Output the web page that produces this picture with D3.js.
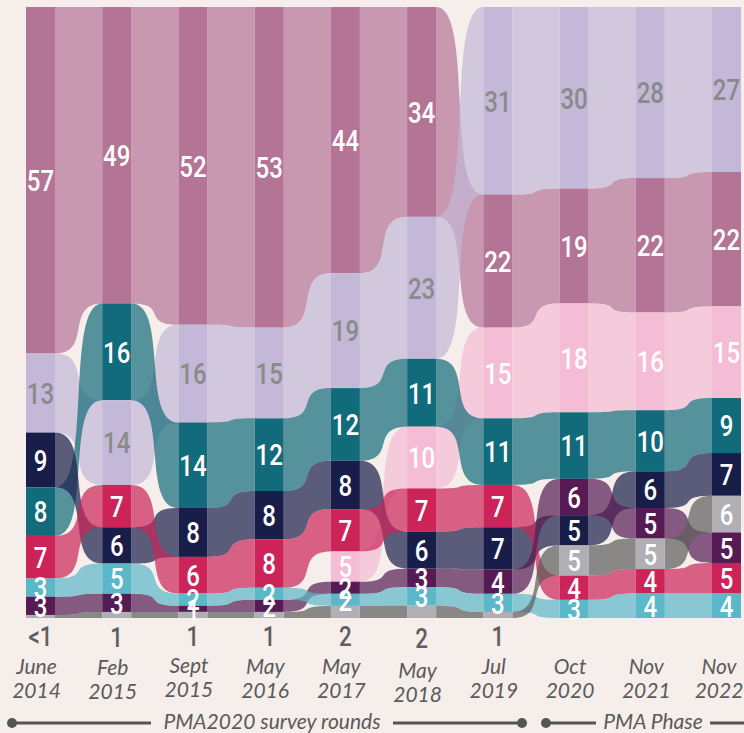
<!DOCTYPE html>
<html>
<head>
<meta charset="utf-8">
<script src="https://cdn.jsdelivr.net/npm/d3@7"></script>
<style>
  body { margin: 0; background: #f5eeeb; }
  svg { display: block; }
</style>
</head>
<body>
<div id="chart"></div>
<script>
// survey rounds
var months = ["June", "Feb", "Sept", "May", "May", "May", "Jul", "Oct", "Nov", "Nov"];
var years = ["2014", "2015", "2015", "2016", "2017", "2018", "2019", "2020", "2021", "2022"];

// share of users by method, per round (0 = not measured)
var injectables = [57, 49, 52, 53, 44, 34, 22, 19, 22, 22];
var implants    = [13, 14, 16, 15, 19, 23, 31, 30, 28, 27];
var iud         = [8, 16, 14, 12, 12, 11, 11, 11, 10, 9];
var pills       = [9, 6, 8, 8, 8, 6, 7, 5, 6, 7];
var condoms     = [7, 7, 6, 8, 7, 7, 7, 4, 4, 5];
var ec          = [3, 5, 2, 2, 2, 3, 3, 3, 4, 4];
var traditional = [3, 3, 1, 2, 2, 3, 4, 6, 5, 5];
var sdm         = [0, 0, 0, 0, 5, 10, 15, 18, 16, 15];
var other       = [0.5, 1, 1, 1, 2, 2, 1, 5, 5, 6];
var otherLabels = ["<1", "1", "1", "1", "2", "2", "1", "5", "5", "6"];

// stack order, top to bottom, for each round
var stackOrder = [
  ["injectables", "implants", "pills", "iud", "condoms", "ec", "traditional", "other"],
  ["injectables", "iud", "implants", "condoms", "pills", "ec", "traditional", "other"],
  ["injectables", "implants", "iud", "pills", "condoms", "ec", "traditional", "other"],
  ["injectables", "implants", "iud", "pills", "condoms", "ec", "traditional", "other"],
  ["injectables", "implants", "iud", "pills", "condoms", "sdm", "traditional", "ec", "other"],
  ["injectables", "implants", "iud", "sdm", "condoms", "pills", "traditional", "ec", "other"],
  ["implants", "injectables", "sdm", "iud", "condoms", "pills", "traditional", "ec", "other"],
  ["implants", "injectables", "sdm", "iud", "traditional", "pills", "other", "condoms", "ec"],
  ["implants", "injectables", "sdm", "iud", "pills", "traditional", "other", "condoms", "ec"],
  ["implants", "injectables", "sdm", "iud", "pills", "other", "traditional", "condoms", "ec"]
];

var series = {
  injectables: injectables, implants: implants, iud: iud, pills: pills,
  condoms: condoms, ec: ec, traditional: traditional, sdm: sdm, other: other
};

var barColor = {
  injectables: "#b47495", implants: "#c3b8d7", iud: "#126b7a", pills: "#191d4a",
  condoms: "#cc2459", ec: "#5bb8c9", traditional: "#561b54", sdm: "#f5bcd5", other: "#b0b0b4"
};
var flowColor = {
  injectables: "#b47495", implants: "#c3b8d7", iud: "#126b7a", pills: "#191d4a",
  condoms: "#cc2459", ec: "#5bb8c9", traditional: "#561b54", sdm: "#f5bcd5", other: "#5c5c5c"
};
var drawOrder = ["injectables", "implants", "sdm", "iud", "pills", "condoms", "traditional", "ec", "other"];

var W = 744, H = 733;
var yTop = 7, yBottom = 618, barW = 29;
var labelNudge = [0, 1, -1, 0, 0, 4, 0, 0, 0, 0];
var firstPhase = 7; // rounds from here on are PMA Phase
var numFont = "Roboto, 'DejaVu Sans', sans-serif";

var svg = d3.select("#chart").append("svg")
  .attr("width", W).attr("height", H)
  .style("background", "#f5eeeb");

var x = d3.scaleLinear().domain([0, months.length - 1]).range([26, 712]);

// stacked positions per round
var layout = stackOrder.map(function(order, i) {
  var total = d3.sum(order, function(k) { return series[k][i]; });
  var y = d3.scaleLinear().domain([0, total]).range([yTop, yBottom]);
  var acc = 0, pos = {};
  order.forEach(function(k) {
    var v = series[k][i];
    pos[k] = { y0: y(acc), y1: y(acc + v), v: v };
    acc += v;
  });
  return pos;
});

function ribbon(x1, a1, b1, x2, a2, b2) {
  var k = 0.8 * (x2 - x1);
  var p = d3.path();
  p.moveTo(x1, a1);
  p.bezierCurveTo(x1 + k, a1, x2 - k, a2, x2, a2);
  p.lineTo(x2, b2);
  p.bezierCurveTo(x2 - k, b2, x1 + k, b1, x1, b1);
  p.closePath();
  return p.toString();
}

// flows between rounds
var flows = svg.append("g");
drawOrder.forEach(function(k) {
  for (var i = 0; i < months.length - 1; i++) {
    var a = layout[i][k], b = layout[i + 1][k];
    if (!a || !b || a.v === 0 || b.v === 0) continue;
    flows.append("path")
      .attr("d", ribbon(x(i) + barW, a.y0, a.y1, x(i + 1), b.y0, b.y1))
      .attr("fill", flowColor[k])
      .attr("fill-opacity", 0.7);
  }
});

// bars
var bars = svg.append("g");
layout.forEach(function(pos, i) {
  Object.keys(pos).forEach(function(k) {
    if (pos[k].v === 0) return;
    bars.append("rect")
      .attr("x", x(i)).attr("y", pos[k].y0)
      .attr("width", barW).attr("height", pos[k].y1 - pos[k].y0)
      .attr("fill", barColor[k]);
  });
});

// narrow number text
function number(g, cx, cy, size, color, txt) {
  g.append("text")
    .attr("transform", "translate(" + cx + "," + cy + ") scale(0.8,1)")
    .attr("text-anchor", "middle")
    .attr("dy", "0.36em")
    .attr("font-family", numFont)
    .attr("font-weight", 500)
    .attr("font-size", size)
    .attr("fill", color)
    .text(txt);
}

// value labels
var labels = svg.append("g");
layout.forEach(function(pos, i) {
  Object.keys(pos).forEach(function(k) {
    var d = pos[k];
    if (d.v === 0) return;
    if (k === "other" && i < firstPhase) return;
    number(labels, x(i) + barW / 2, (d.y0 + d.y1) / 2, 30,
      k === "implants" ? "#8a8a8a" : "#ffffff",
      k === "other" ? otherLabels[i] : d.v);
  });
});

// small values shown under the chart
for (var i = 0; i < firstPhase; i++) {
  number(labels, x(i) + barW / 2, 636 + labelNudge[i] / 2, 28, "#5e5e5e", otherLabels[i]);
}

// round labels
var axis = svg.append("g")
  .attr("font-family", "Lato, 'Open Sans', sans-serif")
  .attr("font-style", "italic")
  .attr("font-size", 21)
  .attr("fill", "#5a5a5a")
  .attr("text-anchor", "middle");
months.forEach(function(m, i) {
  var cx = Math.min(x(i) + barW / 2 - 4, W - 25);
  axis.append("text").attr("x", cx).attr("y", 674 + labelNudge[i]).text(m);
  axis.append("text").attr("x", cx).attr("y", 698 + labelNudge[i]).text(years[i]);
});

// bracket lines for the two survey programmes
var brackets = svg.append("g");
var lineY = 723;
function bracket(xa, xb, ta, tb, label, dotRight) {
  brackets.append("line").attr("x1", xa).attr("x2", ta).attr("y1", lineY).attr("y2", lineY)
    .attr("stroke", "#555").attr("stroke-width", 3);
  brackets.append("line").attr("x1", tb).attr("x2", xb).attr("y1", lineY).attr("y2", lineY)
    .attr("stroke", "#555").attr("stroke-width", 3);
  brackets.append("circle").attr("cx", xa).attr("cy", lineY).attr("r", 5).attr("fill", "#555");
  if (dotRight) brackets.append("circle").attr("cx", xb).attr("cy", lineY).attr("r", 5).attr("fill", "#555");
  brackets.append("text")
    .attr("x", (ta + tb) / 2).attr("y", lineY + 6)
    .attr("text-anchor", "middle")
    .attr("font-family", "Lato, 'Open Sans', sans-serif")
    .attr("font-style", "italic").attr("font-size", 21)
    .attr("fill", "#5a5a5a")
    .text(label);
}
bracket(12, 522, 151, 393, "PMA2020 survey rounds", true);
bracket(546, 760, 596, 710, "PMA Phase", false);
</script>
</body>
</html>
